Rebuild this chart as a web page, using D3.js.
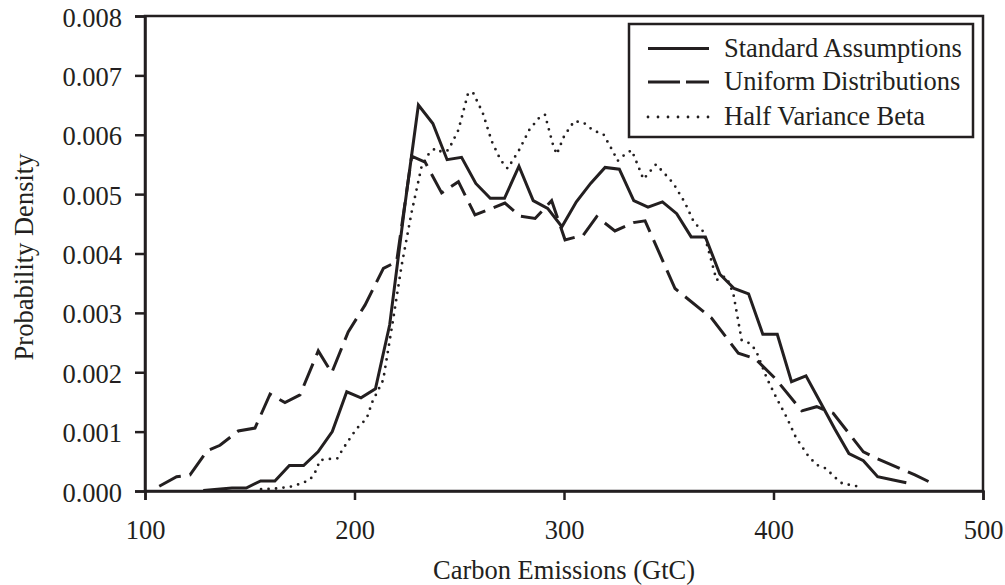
<!DOCTYPE html>
<html>
<head>
<meta charset="utf-8">
<script src="https://cdn.jsdelivr.net/npm/d3@7"></script>
<style>
  html, body { margin: 0; padding: 0; background: #fff; }
  svg { display: block; }
  text { font-family: "Liberation Serif", "Times New Roman", serif; fill: #231f20; }
</style>
</head>
<body>
<svg id="chart" width="1005" height="585"></svg>
<script>
// ---------- DATA ----------
const xTicks = [100, 200, 300, 400, 500];
const yTicks = [0, 0.001, 0.002, 0.003, 0.004, 0.005, 0.006, 0.007, 0.008];
const seriesNames = ["Standard Assumptions", "Uniform Distributions", "Half Variance Beta"];

const standardX = [127.8, 134.6, 141.5, 148.3, 155.2, 162.0, 168.9, 175.7, 182.6, 189.4,
  196.3, 203.1, 210.0, 216.8, 223.7, 230.5, 237.4, 244.2, 251.1, 257.9,
  264.8, 271.6, 278.5, 285.3, 292.2, 299.0, 305.9, 312.7, 319.6, 326.4,
  333.3, 340.1, 347.0, 353.8, 360.7, 367.5, 374.4, 381.2, 388.1, 394.9,
  401.8, 408.6, 415.5, 422.3, 429.2, 436.0, 442.9, 449.7, 456.6, 463.4];
const standardY = [0.00001, 0.00003, 0.00005, 0.00005, 0.00017, 0.00017, 0.00043, 0.00043, 0.00066, 0.00100,
  0.00167, 0.00157, 0.00172, 0.00280, 0.00472, 0.00650, 0.00619, 0.00558, 0.00562, 0.00518,
  0.00493, 0.00493, 0.00547, 0.00489, 0.00476, 0.00445, 0.00487, 0.00518, 0.00545, 0.00542,
  0.00489, 0.00478, 0.00487, 0.00467, 0.00428, 0.00428, 0.00365, 0.00341, 0.00332, 0.00264,
  0.00264, 0.00184, 0.00194, 0.00150, 0.00105, 0.00063, 0.00051, 0.00024, 0.00019, 0.00014];

const uniformX = [106.8, 115.1, 121.5, 129.7, 135.8, 144.5, 152.5, 159.7, 166.8, 174.0,
  182.7, 189.1, 197.0, 205.0, 213.8, 220.1, 227.3, 233.7, 241.6, 249.6,
  257.5, 264.7, 271.8, 279.0, 286.2, 294.1, 300.5, 309.2, 315.6, 324.3,
  333.1, 338.7, 353.0, 370.5, 383.2, 391.2, 400.7, 413.5, 420.6, 428.5,
  442.9, 449.2, 460.4, 467.5, 474.0];
const uniformY = [0.00008, 0.00024, 0.00027, 0.00068, 0.00077, 0.00101, 0.00106, 0.00163, 0.00149, 0.00162,
  0.00236, 0.00199, 0.00268, 0.00313, 0.00375, 0.00386, 0.00564, 0.00554, 0.00502, 0.00521,
  0.00465, 0.00475, 0.00485, 0.00463, 0.00459, 0.00489, 0.00423, 0.00431, 0.00462, 0.00438,
  0.00452, 0.00455, 0.00341, 0.00291, 0.00232, 0.00223, 0.00190, 0.00135, 0.00142, 0.00131,
  0.00066, 0.00055, 0.00038, 0.00027, 0.00016];

const betaX = [155.4, 162.0, 169.2, 174.0, 178.8, 181.6, 183.5, 188.3, 191.8, 194.7,
  197.9, 201.0, 205.8, 208.5, 213.7, 218.5, 222.5, 227.3, 232.0, 235.5,
  238.5, 241.6, 244.8, 249.6, 254.3, 256.7, 261.2, 265.5, 269.8, 273.1,
  278.7, 283.4, 288.0, 290.9, 294.6, 296.5, 300.1, 304.9, 309.5, 314.0,
  318.8, 323.5, 325.6, 329.1, 332.3, 336.0, 337.9, 343.9, 347.9, 352.2,
  357.8, 362.1, 366.5, 370.5, 372.8, 375.3, 377.6, 380.8, 384.8, 388.5,
  391.6, 396.8, 401.5, 406.3, 410.7, 416.6, 420.6, 425.0, 429.0, 433.0,
  437.6, 442.1];
const betaY = [0.00003, 0.00004, 0.00007, 0.00012, 0.00019, 0.00034, 0.00052, 0.00054, 0.00055, 0.00072,
  0.00089, 0.00105, 0.00122, 0.00150, 0.00187, 0.00290, 0.00380, 0.00470, 0.00546, 0.00568,
  0.00577, 0.00571, 0.00574, 0.00608, 0.00671, 0.00670, 0.00637, 0.00589, 0.00557, 0.00543,
  0.00575, 0.00608, 0.00628, 0.00634, 0.00585, 0.00567, 0.00598, 0.00623, 0.00620, 0.00607,
  0.00601, 0.00571, 0.00556, 0.00567, 0.00574, 0.00542, 0.00525, 0.00550, 0.00535, 0.00518,
  0.00485, 0.00452, 0.00437, 0.00386, 0.00355, 0.00361, 0.00360, 0.00333, 0.00254, 0.00249,
  0.00237, 0.00190, 0.00156, 0.00124, 0.00090, 0.00059, 0.00044, 0.00038, 0.00024, 0.00012,
  0.00010, 0.00006];

// ---------- LAYOUT ----------
const m = { left: 145, right: 983, top: 16, bottom: 491 };
const ink = "#231f20";
const fontSize = 26.5;

const svg = d3.select("#chart");
const x = d3.scaleLinear().domain([100, 500]).range([m.left, m.right]);
const y = d3.scaleLinear().domain([0, 0.008]).range([m.bottom, m.top]);

const zip = (xs, ys) => xs.map((v, i) => [v, ys[i]]);
const series = [
  { name: seriesNames[0], data: zip(standardX, standardY), dash: null, width: 3, cap: "butt" },
  { name: seriesNames[1], data: zip(uniformX, uniformY), dash: "24,9", width: 3, cap: "butt" },
  { name: seriesNames[2], data: zip(betaX, betaY), dash: "0,7.5", width: 2.8, cap: "round" }
];

const line = d3.line().x(d => x(d[0])).y(d => y(d[1]));

const gLines = svg.append("g");
series.forEach(s => {
  gLines.append("path")
    .datum(s.data)
    .attr("d", line)
    .attr("fill", "none")
    .attr("stroke", ink)
    .attr("stroke-width", s.width)
    .attr("stroke-linejoin", "miter")
    .attr("stroke-linecap", s.cap)
    .attr("stroke-dasharray", s.dash);
});

svg.append("rect")
  .attr("x", m.left).attr("y", m.top)
  .attr("width", m.right - m.left).attr("height", m.bottom - m.top)
  .attr("fill", "none").attr("stroke", ink).attr("stroke-width", 2.5);

const yAxis = d3.axisLeft(y).tickValues(yTicks).tickFormat(d3.format(".3f"))
  .tickSize(10).tickPadding(13);
const gy = svg.append("g").attr("transform", `translate(${m.left},0)`).call(yAxis);
const xAxis = d3.axisBottom(x).tickValues(xTicks).tickFormat(d3.format("d"))
  .tickSize(9).tickPadding(20);
const gx = svg.append("g").attr("transform", `translate(0,${m.bottom})`).call(xAxis);

[gx, gy].forEach(g => {
  g.select(".domain").attr("stroke", ink).attr("stroke-width", 2.5);
  g.selectAll(".tick line").attr("stroke", ink).attr("stroke-width", 2.5);
  g.selectAll(".tick text")
    .attr("fill", ink)
    .style("font-family", '"Liberation Serif", "Times New Roman", serif')
    .style("font-size", fontSize + "px");
});
gy.selectAll(".tick text").attr("dy", "0.38em");

svg.append("text")
  .attr("x", (m.left + m.right) / 2).attr("y", 579)
  .attr("text-anchor", "middle")
  .style("font-size", fontSize + "px")
  .text("Carbon Emissions (GtC)");
svg.append("text")
  .attr("transform", "translate(33,257) rotate(-90)")
  .attr("text-anchor", "middle")
  .style("font-size", fontSize + "px")
  .text("Probability Density");

const leg = svg.append("g");
leg.append("rect")
  .attr("x", 629).attr("y", 24).attr("width", 344).attr("height", 113)
  .attr("fill", "#fff").attr("stroke", ink).attr("stroke-width", 2.5);
const rowY = [48.5, 82, 117];
series.forEach((s, i) => {
  leg.append("line")
    .attr("x1", 648).attr("x2", 709).attr("y1", rowY[i]).attr("y2", rowY[i])
    .attr("stroke", ink).attr("stroke-width", s.width)
    .attr("stroke-linecap", s.cap)
    .attr("stroke-dasharray", i === 1 ? "32,6" : (i === 2 ? "0,10" : null));
  leg.append("text")
    .attr("x", 724).attr("y", rowY[i] + 8)
    .style("font-size", fontSize + "px")
    .text(s.name);
});
</script>
</body>
</html>
